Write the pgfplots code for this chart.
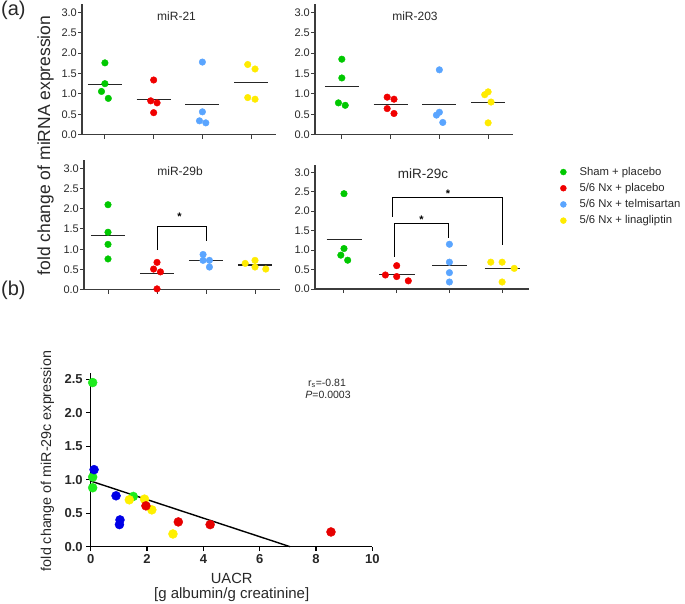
\documentclass[border=0pt]{standalone}
\usepackage{fontspec}
\setmainfont{Liberation Sans}
\usepackage{pgfplots}
\pgfplotsset{compat=1.18}

\definecolor{gA}{RGB}{0,200,0}
\definecolor{rA}{RGB}{240,0,0}
\definecolor{bA}{RGB}{90,165,255}
\definecolor{yA}{RGB}{255,235,0}
\definecolor{gB}{RGB}{30,235,30}
\definecolor{rB}{RGB}{230,0,0}
\definecolor{bB}{RGB}{0,0,230}
\definecolor{yB}{RGB}{255,240,0}
\definecolor{axc}{RGB}{60,60,60}
\definecolor{txt}{RGB}{40,40,40}

\newcommand{\fs}[1]{\fontsize{#1}{#1}\selectfont}
% mean bar: from x1 to x2 at height y
\newcommand{\mline}[3]{\addplot[forget plot, no marks, draw=black!85, line width=1.1pt] coordinates {(#1,#3) (#2,#3)};}

\pgfplotsset{
  panel/.style={
    scale only axis, clip=false,
    axis lines*=left,
    axis line style={draw=axc, line width=1.1pt},
    ymin=0, ymax=3.2,
    ytick={0,0.5,...,3},
    xtick={1,2,3,4}, xticklabels={},
    tick align=outside, major tick length=4pt,
    tick style={draw=axc, line width=1pt},
    yticklabel={\pgfmathprintnumber[fixed,fixed zerofill,precision=1,assume math mode=true]{\tick}},
    yticklabel style={font=\fs{11}, text=txt, inner sep=1pt},
    mark size=3.3pt,
  },
  dot/.style={only marks, mark=*, color=#1},
}

\begin{document}
\begin{tikzpicture}[x=1pt,y=1pt]
\useasboundingbox (0pt,0pt) rectangle (685pt,-604pt);

% ---------- miR-21
\begin{axis}[panel, at={(82pt,-134.7pt)}, anchor=south west,
  width=194pt, height=130.6pt, xmin=0.53, xmax=4.51]
  \addplot[dot=gA] coordinates {(1,1.76) (1,1.25) (0.93,1.06) (1.07,0.89)};
  \addplot[dot=rA] coordinates {(2,1.34) (1.94,0.83) (2.07,0.78) (2,0.54)};
  \addplot[dot=bA] coordinates {(3,1.78) (3,0.56) (2.94,0.34) (3.07,0.29)};
  \addplot[dot=yA] coordinates {(3.93,1.72) (4.08,1.61) (3.93,0.91) (4.08,0.87)};
  \mline{0.65}{1.35}{1.24}
  \mline{1.65}{2.35}{0.87}
  \mline{2.65}{3.35}{0.74}
  \mline{3.65}{4.35}{1.28}
  \node[font=\fs{12}, text=txt] at (axis cs:2.47,2.91) {miR-21};
\end{axis}

% ---------- miR-203
\begin{axis}[panel, at={(315pt,-134.7pt)}, anchor=south west,
  width=198pt, height=130.6pt, xmin=0.45, xmax=4.51]
  \addplot[dot=gA] coordinates {(1,1.85) (1,1.39) (0.93,0.78) (1.07,0.72)};
  \addplot[dot=rA] coordinates {(1.93,0.92) (2.07,0.87) (1.93,0.64) (2.07,0.52)};
  \addplot[dot=bA] coordinates {(3,1.59) (3,0.55) (2.94,0.48) (3.07,0.30)};
  \addplot[dot=yA] coordinates {(4,1.05) (3.93,0.98) (4.06,0.80) (4,0.29)};
  \mline{0.65}{1.35}{1.19}
  \mline{1.65}{2.35}{0.74}
  \mline{2.65}{3.35}{0.73}
  \mline{3.65}{4.35}{0.78}
  \node[font=\fs{12}, text=txt] at (axis cs:2.50,2.91) {miR-203};
\end{axis}

% ---------- miR-29b
\begin{axis}[panel, at={(84pt,-289.7pt)}, anchor=south west,
  width=196pt, height=129.5pt, xmin=0.51, xmax=4.51]
  \addplot[dot=gA] coordinates {(1,2.10) (1,1.42) (1,1.12) (1,0.76)};
  \addplot[dot=rA] coordinates {(2,0.675) (1.93,0.51) (2.07,0.44) (2,0.02)};
  \addplot[dot=bA] coordinates {(2.94,0.87) (2.94,0.725) (3.07,0.725) (3.07,0.56)};
  \addplot[dot=yA] coordinates {(3.8,0.65) (4,0.725) (4,0.56) (4.22,0.51)};
  \mline{0.65}{1.35}{1.35}
  \mline{1.65}{2.35}{0.41}
  \mline{2.65}{3.35}{0.72}
  \mline{3.65}{4.35}{0.61}
  \addplot[forget plot, no marks, black, line width=0.9pt] coordinates {(2,0.98) (2,1.57) (3,1.57) (3,1.21)};
  \node[font=\bfseries\fs{11}] at (axis cs:2.46,1.80) {*};
  \node[font=\fs{12}, text=txt] at (axis cs:2.47,2.93) {miR-29b};
\end{axis}

% ---------- miR-29c
\begin{axis}[panel, at={(315pt,-289pt)}, anchor=south west,
  width=214pt, height=124.5pt, xmin=0.45, xmax=4.51,
  legend cell align=left,
  legend image code/.code={\fill[#1] (0pt,0pt) circle (3pt); \path (-4pt,0pt) (14pt,0pt);},
  legend style={draw=none, fill=none, font=\fs{11.3}, text=txt,
    at={(1.126,1.012)}, anchor=north west, row sep=2.5pt}]
  \addplot[dot=gA] coordinates {(1,2.45) (1,1.04) (0.94,0.87) (1.07,0.74)};
  \addplot[dot=rA] coordinates {(2,0.60) (1.785,0.36) (2,0.32) (2.22,0.21)};
  \addplot[dot=bA] coordinates {(3,1.15) (3,0.69) (3,0.42) (3,0.18)};
  \addplot[dot=yA] coordinates {(3.785,0.69) (4,0.69) (4.23,0.53) (4,0.18)};
  \legend{Sham + placebo, 5/6 Nx + placebo, 5/6 Nx + telmisartan, 5/6 Nx + linagliptin}
  \mline{0.67}{1.34}{1.275}
  \mline{1.67}{2.34}{0.37}
  \mline{2.67}{3.34}{0.61}
  \mline{3.67}{4.34}{0.52}
  \addplot[forget plot, no marks, black, line width=0.9pt] coordinates {(1.92,1.86) (1.92,2.36) (4.01,2.36) (4.01,1.13)};
  \addplot[forget plot, no marks, black, line width=0.9pt] coordinates {(1.95,0.83) (1.95,1.69) (2.99,1.69) (2.99,1.30)};
  \node[font=\bfseries\fs{11}] at (axis cs:2.975,2.45) {*};
  \node[font=\bfseries\fs{11}] at (axis cs:2.47,1.79) {*};
  \node[font=\fs{13.5}, text=txt] at (axis cs:2.50,2.96) {miR-29c};
\end{axis}

% ---------- (b) correlation
\begin{axis}[scale only axis, clip=false, at={(90.7pt,-546.7pt)}, anchor=south west,
  width=281.7pt, height=174.2pt,
  xmin=0, xmax=10, ymin=0, ymax=2.6,
  axis lines*=left,
  axis line style={draw=black, line width=1.4pt},
  xtick={0,2,...,10}, ytick={0,0.5,...,2.5},
  tick align=outside, major tick length=4.5pt,
  tick style={draw=black, line width=1.2pt},
  xticklabel={\pgfmathprintnumber[assume math mode=true]{\tick}},
  yticklabel={\pgfmathprintnumber[fixed,fixed zerofill,precision=1,assume math mode=true]{\tick}},
  ticklabel style={font=\bfseries\fs{13}, text=txt},
  mark size=4.5pt]
  \addplot[no marks, black, line width=1.4pt] coordinates {(0,0.98) (7.08,0)};
  \addplot[dot=gB] coordinates {(0.07,2.45) (0.07,1.04) (0.07,0.88) (1.51,0.75)};
  \addplot[dot=bB] coordinates {(0.12,1.15) (0.90,0.76) (1.04,0.40) (1.02,0.33)};
  \addplot[dot=yB] coordinates {(1.37,0.70) (1.91,0.71) (2.17,0.55) (2.92,0.19)};
  \addplot[dot=rB] coordinates {(1.96,0.61) (3.11,0.37) (4.24,0.33) (8.53,0.22)};
\end{axis}

% ---------- labels
\node[anchor=north west, inner sep=0pt, font=\fs{20}, text=txt] at (1,-1) {(a)};
\node[anchor=north west, inner sep=0pt, font=\fs{20}, text=txt] at (1,-281) {(b)};
\node[rotate=90, anchor=base, font=\fs{17.5}, text=txt] at (50,-145.5) {fold change of miRNA expression};
\node[rotate=90, anchor=base, font=\fs{14.3}, text=txt] at (51,-461) {fold change of miR-29c expression};
\node[anchor=base, font=\fs{14.7}, text=txt] at (231.7,-583) {UACR};
\node[anchor=base, font=\fs{15}, text=txt] at (231.7,-598.5) {[g albumin/g creatinine]};
\node[anchor=base, font=\fs{10.5}, text=txt] at (327,-386) {r\textsubscript{s}=-0.81};
\node[anchor=base, font=\fs{10.5}, text=txt] at (328,-398.7) {\textit{P}=0.0003};
\end{tikzpicture}
\end{document}
